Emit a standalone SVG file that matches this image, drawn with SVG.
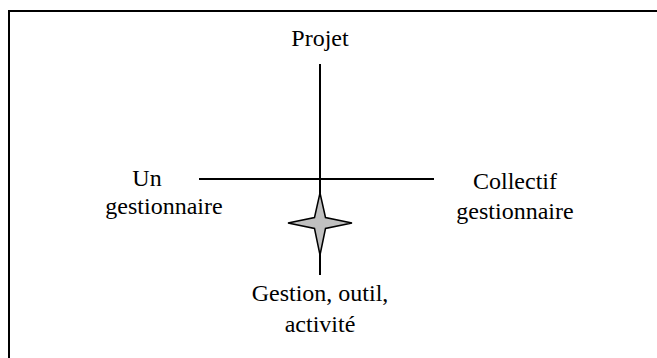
<svg xmlns="http://www.w3.org/2000/svg" width="657" height="358" viewBox="0 0 657 358">
<style>
.t{font-family:'Liberation Serif','Times New Roman',serif;font-size:24px;fill:#000;text-anchor:middle}
.ln{stroke:#000;stroke-width:2;fill:none}
</style>
<rect x="0" y="0" width="657" height="358" fill="#fff"/>
<rect x="9" y="11" width="660" height="360" fill="none" stroke="#000" stroke-width="2"/>
<g id="connectors">
<line class="ln" x1="320" y1="64" x2="320" y2="275"/>
<line class="ln" x1="199" y1="179" x2="434" y2="179"/>
</g>
<g id="star">
<path d="M320,193 L325.5,217.5 L352,223 L325.5,228.5 L320,255 L314.5,228.5 L288,223 L314.5,217.5 Z" fill="#c0c0c0" stroke="#000" stroke-width="1.5" stroke-linejoin="miter"/>
</g>
<g id="projet"><text class="t" x="320" y="46">Projet</text></g>
<g id="un-gestionnaire"><text class="t" x="147" y="186">Un</text><text class="t" x="164" y="214">gestionnaire</text></g>
<g id="collectif"><text class="t" x="515" y="189">Collectif</text><text class="t" x="515" y="219">gestionnaire</text></g>
<g id="gestion"><text class="t" x="320" y="301">Gestion, outil,</text><text class="t" x="320" y="332">activité</text></g>
</svg>
